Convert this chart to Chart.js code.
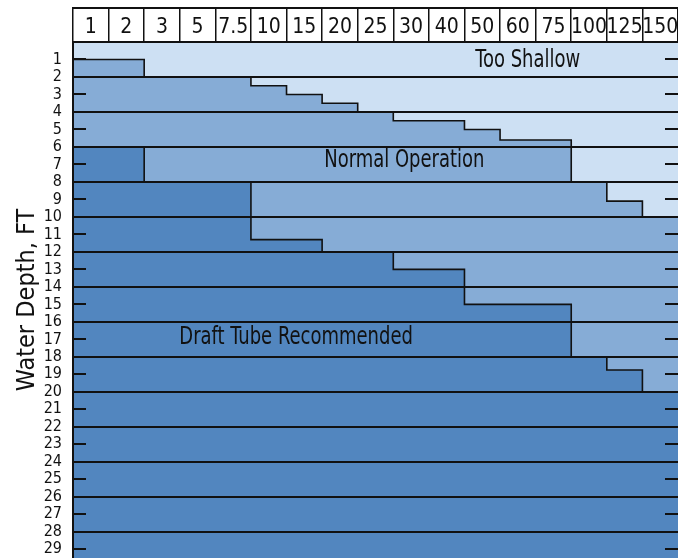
<!DOCTYPE html>
<html>
<head>
<meta charset="utf-8">
<title>Water Depth by Horsepower</title>
<script src="https://cdn.jsdelivr.net/npm/chart.js@4.4.1/dist/chart.umd.min.js"></script>
<style>
html, body { margin:0; padding:0; background:#fff; }
#wrap { width:678px; height:558px; }
</style>
</head>
<body>
<div id="wrap"><canvas id="chart" width="678" height="558"></canvas></div>
<script>
// Horsepower columns (header row)
var hpLabels = ['1', '2', '3', '5', '7.5', '10', '15', '20', '25', '30', '40', '50', '60', '75', '100', '125', '150'];
// Depth (ft) where normal operation starts, per column
var normalMinDepth = [1, 1, 2, 2, 2, 2.5, 3, 3.5, 4, 4.5, 4.5, 5, 5.6, 5.6, 8, 9.1, 10];
// Depth (ft) where a draft tube is recommended, per column
var draftMinDepth = [6, 6, 8, 8, 8, 11.3, 11.3, 12, 12, 13, 13, 15, 15, 15, 18, 18.75, 20];
// Depth tick labels
var depthLabels = [1, 2, 3, 4, 5, 6, 7, 8, 9, 10, 11, 12, 13, 14, 15, 16, 17, 18, 19, 20, 21, 22, 23, 24, 25, 26, 27, 28, 29];
var depthMax = 29.5;

var FONT = "'DejaVu Sans Condensed', 'Liberation Sans Narrow', sans-serif";
var LIGHT = '#cde0f3', MEDIUM = '#86acd6', DARK = '#5286bf', INK = '#111';

// region captions, in column / depth units
var regionText = [
	{ text: 'Too Shallow', col: 12.78, depth: 1.05 },
	{ text: 'Normal Operation', col: 9.31, depth: 6.75 },
	{ text: 'Draft Tube Recommended', col: 6.27, depth: 16.9 }
];

function stepPoints(values){
	var pts = values.map(function(v, i){ return { x: i, y: v }; });
	pts.push({ x: values.length, y: values[values.length - 1] }); // close the last column
	return pts;
}

var decor = {
	id: 'decor',
	beforeDraw: function(chart){
		var a = chart.chartArea, c = chart.ctx;
		c.save();
		c.fillStyle = LIGHT;
		c.fillRect(a.left, a.top, a.right - a.left, a.bottom - a.top);
		c.restore();
	},
	afterDraw: function(chart){
		var a = chart.chartArea, c = chart.ctx,
			xs = chart.scales.x, ys = chart.scales.y, hs = chart.scales.hp;
		c.save();
		c.strokeStyle = INK;
		c.lineWidth = 2;
		// top edge of the header boxes
		c.beginPath();
		c.moveTo(a.left, hs.top + 1);
		c.lineTo(a.right, hs.top + 1);
		c.stroke();
		// short inner ticks at odd depths, both sides
		depthLabels.forEach(function(d){
			if (d % 2 === 0) return;
			var y = Math.round(ys.getPixelForValue(d));
			c.beginPath();
			c.moveTo(a.left, y); c.lineTo(a.left + 13, y);
			c.moveTo(a.right - 13, y); c.lineTo(a.right, y);
			c.stroke();
		});
		// region captions, squeezed to a condensed look
		c.fillStyle = INK;
		c.font = '25px ' + FONT;
		c.textAlign = 'center';
		c.textBaseline = 'middle';
		regionText.forEach(function(r){
			c.save();
			c.translate(xs.getPixelForValue(r.col), ys.getPixelForValue(r.depth));
			c.scale(0.8, 1);
			c.fillText(r.text, 0, 0);
			c.restore();
		});
		c.restore();
	}
};

new Chart(document.getElementById('chart').getContext('2d'), {
	type: 'line',
	data: {
		datasets: [
			{ label: 'Draft Tube Recommended', data: stepPoints(draftMinDepth), stepped: true,
			  borderColor: INK, borderWidth: 1.6, pointRadius: 0, backgroundColor: DARK, fill: { value: depthMax } },
			{ label: 'Normal Operation', data: stepPoints(normalMinDepth), stepped: true,
			  borderColor: INK, borderWidth: 1.6, pointRadius: 0, backgroundColor: MEDIUM, fill: { value: depthMax } }
		]
	},
	options: {
		responsive: false,
		animation: false,
		layout: { autoPadding: false, padding: { top: 7, left: 0, right: 0, bottom: 0 } },
		plugins: { legend: { display: false }, tooltip: { enabled: false } },
		scales: {
			x: { type: 'linear', min: 0, max: hpLabels.length, display: false },
			hp: {
				type: 'category', labels: hpLabels, position: 'top', offset: true,
				afterFit: function(s){ s.height = 35; s.paddingLeft = 0; s.paddingRight = 0; },
				grid: { offset: true, drawOnChartArea: false, tickLength: 35, color: INK, lineWidth: 1.5 },
				border: { display: true, color: INK, width: 2 },
				ticks: { color: INK, font: { family: FONT, size: 21 }, padding: -33, autoSkip: false, maxRotation: 0 }
			},
			y: {
				type: 'linear', reverse: true, min: 0, max: depthMax,
				// fixed width, and no extra room kept for the end labels
				afterFit: function(s){ s.width = 73; s.paddingTop = 0; s.paddingBottom = 0; },
				afterBuildTicks: function(s){ s.ticks = depthLabels.map(function(v){ return { value: v }; }); },
				grid: {
					z: 1, drawTicks: false, lineWidth: 2,
					color: function(ctx){ return ctx.tick && ctx.tick.value % 2 === 0 ? INK : 'rgba(0,0,0,0)'; }
				},
				border: { display: true, color: INK, width: 2, z: 1 },
				ticks: { color: INK, font: { family: FONT, size: 16 }, padding: 11, autoSkip: false },
				title: { display: true, text: 'Water Depth, FT', color: INK, font: { family: FONT, size: 25 }, padding: { top: 12, bottom: 0 } }
			}
		}
	},
	plugins: [decor]
});
</script>
</body>
</html>
